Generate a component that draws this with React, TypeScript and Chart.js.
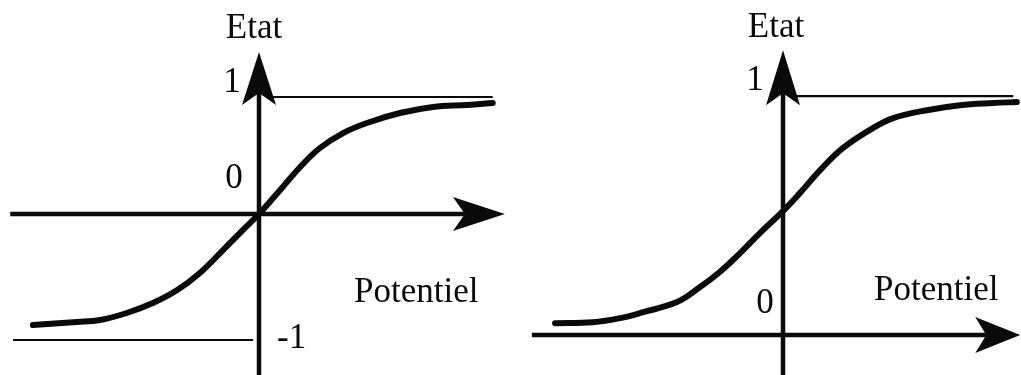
import React, { useEffect, useRef } from "react";
import { Chart, registerables } from "chart.js";
Chart.register(...registerables);

// ---- Data ----
// Left panel: state in [-1, 1]
const leftPotential = [-3.9, -3.14, -2.74, -2.28, -1.83, -1.41, -1.02, -0.62, -0.28, 0, 0.41, 0.71, 1.05, 1.45, 1.86, 2.43, 3.0, 3.59, 4.03];
const leftState = [-0.949, -0.923, -0.906, -0.846, -0.761, -0.65, -0.504, -0.308, -0.137, 0, 0.231, 0.402, 0.564, 0.692, 0.778, 0.863, 0.915, 0.932, 0.949];
// Right panel: state in [0, 1]
const rightPotential = [-3.93, -3.28, -2.81, -2.41, -1.83, -1.43, -1.09, -0.74, -0.4, 0, 0.29, 0.64, 1.03, 1.55, 1.9, 2.48, 3.05, 3.62, 4.03];
const rightState = [0.05, 0.054, 0.071, 0.096, 0.138, 0.201, 0.264, 0.343, 0.427, 0.519, 0.594, 0.69, 0.782, 0.866, 0.908, 0.941, 0.962, 0.971, 0.975];

// Asymptote guide lines
const leftUpperLevel = 1;
const leftUpperSpan = [0.14, 4.03];
const leftLowerLevel = -1.077;
const leftLowerSpan = [-4.24, -0.1];
const rightUpperLevel = 1;
const rightUpperSpan = [0.24, 3.97];

// Axis extents (arrow tips)
const leftXAxis = [-4.29, 4.24];
const leftYAxis = [-1.376, 1.385];
const rightXAxis = [-4.33, 4.09];
const rightYAxis = [-0.167, 1.192];

// Visible windows
const leftXWindow = [-4.466, 4.328];
const leftYWindow = [-1.376, 1.829];
const rightXWindow = [-4.707, 4.103];
const rightYWindow = [-0.167, 1.402];

// Texts
const axisTitleY = "Etat";
const axisTitleX = "Potentiel";
const leftTickLabels = ["1", "0", "-1"];
const rightTickLabels = ["1", "0"];

const FONT = "35px 'Liberation Serif', 'Times New Roman', serif";
const INK = "#0a0a0a";

type Label = { text: string; dx: number; dy: number; refX: number; refY: number | "tip"; align: CanvasTextAlign };
type PanelCfg = {
  xAxis: number[];
  yAxis: number[];
  arrowX: { len: number; half: number; notch: number };
  arrowY: { len: number; half: number; notch: number };
  labels: Label[];
};

function drawArrow(ctx: CanvasRenderingContext2D, tx: number, ty: number, dx: number, dy: number, len: number, half: number, notch: number) {
  const bx = tx - dx * len;
  const by = ty - dy * len;
  const px = -dy;
  const py = dx;
  const nx = tx - dx * (len - notch);
  const ny = ty - dy * (len - notch);
  ctx.beginPath();
  ctx.moveTo(tx, ty);
  ctx.lineTo(bx + px * half, by + py * half);
  ctx.lineTo(nx, ny);
  ctx.lineTo(bx - px * half, by - py * half);
  ctx.closePath();
  ctx.fill();
}

const axesPlugin = {
  id: "sketchAxes",
  afterDatasetsDraw(chart: any, _args: any, opts: any) {
    const cfg: PanelCfg = opts.panel;
    if (!cfg) return;
    const ctx: CanvasRenderingContext2D = chart.ctx;
    const xs = chart.scales.x;
    const ys = chart.scales.y;
    const ox = xs.getPixelForValue(0);
    const oy = ys.getPixelForValue(0);
    const x0 = xs.getPixelForValue(cfg.xAxis[0]);
    const x1 = xs.getPixelForValue(cfg.xAxis[1]);
    const y0 = ys.getPixelForValue(cfg.yAxis[0]);
    const y1 = ys.getPixelForValue(cfg.yAxis[1]);
    ctx.save();
    ctx.strokeStyle = INK;
    ctx.fillStyle = INK;
    ctx.lineWidth = 4.5;
    ctx.lineCap = "butt";
    // horizontal axis
    ctx.beginPath();
    ctx.moveTo(x0, oy);
    ctx.lineTo(x1 - (cfg.arrowX.len - cfg.arrowX.notch), oy);
    ctx.stroke();
    drawArrow(ctx, x1, oy, 1, 0, cfg.arrowX.len, cfg.arrowX.half, cfg.arrowX.notch);
    // vertical axis
    ctx.beginPath();
    ctx.moveTo(ox, y0 + 2);
    ctx.lineTo(ox, y1 + (cfg.arrowY.len - cfg.arrowY.notch));
    ctx.stroke();
    drawArrow(ctx, ox, y1, 0, -1, cfg.arrowY.len, cfg.arrowY.half, cfg.arrowY.notch);
    // labels
    ctx.font = FONT;
    ctx.textBaseline = "alphabetic";
    for (const l of cfg.labels) {
      const rx = xs.getPixelForValue(l.refX);
      const ry = l.refY === "tip" ? y1 : ys.getPixelForValue(l.refY);
      ctx.textAlign = l.align;
      ctx.fillText(l.text, rx + l.dx, ry + l.dy);
    }
    ctx.restore();
  },
};

function segment(xsSpan: number[], level: number) {
  return xsSpan.map((x) => ({ x, y: level }));
}

function makeConfig(
  potential: number[],
  state: number[],
  guides: { span: number[]; level: number }[],
  xWin: number[],
  yWin: number[],
  panel: PanelCfg
): any {
  const datasets: any[] = [
    {
      data: potential.map((x, i) => ({ x, y: state[i] })),
      borderColor: INK,
      borderWidth: 6,
      tension: 0.4,
      pointRadius: 0,
      borderCapStyle: "round",
      borderJoinStyle: "round",
      fill: false,
    },
    ...guides.map((g) => ({
      data: segment(g.span, g.level),
      borderColor: INK,
      borderWidth: 2.2,
      pointRadius: 0,
      fill: false,
    })),
  ];
  return {
    type: "line",
    data: { datasets },
    options: {
      animation: false,
      responsive: false,
      maintainAspectRatio: false,
      devicePixelRatio: 1,
      layout: { padding: 0 },
      events: [],
      scales: {
        x: { type: "linear", display: false, min: xWin[0], max: xWin[1] },
        y: { type: "linear", display: false, min: yWin[0], max: yWin[1] },
      },
      plugins: {
        legend: { display: false },
        tooltip: { enabled: false },
        sketchAxes: { panel },
      },
    },
    plugins: [axesPlugin],
  };
}

const leftPanel: PanelCfg = {
  xAxis: leftXAxis,
  yAxis: leftYAxis,
  arrowX: { len: 52, half: 17, notch: 12 },
  arrowY: { len: 53, half: 17, notch: 12 },
  labels: [
    { text: axisTitleY, refX: 0, refY: "tip", dx: -5, dy: -14, align: "center" },
    { text: leftTickLabels[0], refX: 0, refY: leftUpperLevel, dx: -27, dy: -5, align: "center" },
    { text: leftTickLabels[1], refX: 0, refY: 0, dx: -25, dy: -26, align: "center" },
    { text: leftTickLabels[2], refX: 0, refY: leftLowerLevel, dx: 18, dy: 8, align: "left" },
    { text: axisTitleX, refX: 0, refY: 0, dx: 95, dy: 88, align: "left" },
  ],
};

const rightPanel: PanelCfg = {
  xAxis: rightXAxis,
  yAxis: rightYAxis,
  arrowX: { len: 45, half: 18, notch: 11 },
  arrowY: { len: 55, half: 17, notch: 12 },
  labels: [
    { text: axisTitleY, refX: 0, refY: "tip", dx: -7, dy: -13, align: "center" },
    { text: rightTickLabels[0], refX: 0, refY: rightUpperLevel, dx: -28, dy: -6, align: "center" },
    { text: rightTickLabels[1], refX: 0, refY: 0, dx: -18, dy: -22, align: "center" },
    { text: axisTitleX, refX: 0, refY: 0, dx: 91, dy: -35, align: "left" },
  ],
};

export default function App() {
  const leftRef = useRef<HTMLCanvasElement>(null);
  const rightRef = useRef<HTMLCanvasElement>(null);

  useEffect(() => {
    document.body.style.margin = "0";
    document.body.style.background = "#ffffff";
    const charts: Chart[] = [];
    if (leftRef.current) {
      charts.push(
        new Chart(
          leftRef.current,
          makeConfig(
            leftPotential,
            leftState,
            [
              { span: leftUpperSpan, level: leftUpperLevel },
              { span: leftLowerSpan, level: leftLowerLevel },
            ],
            leftXWindow,
            leftYWindow,
            leftPanel
          )
        )
      );
    }
    if (rightRef.current) {
      charts.push(
        new Chart(
          rightRef.current,
          makeConfig(
            rightPotential,
            rightState,
            [{ span: rightUpperSpan, level: rightUpperLevel }],
            rightXWindow,
            rightYWindow,
            rightPanel
          )
        )
      );
    }
    return () => charts.forEach((c) => c.destroy());
  }, []);

  return (
    <div style={{ position: "relative", width: 1021, height: 375, overflow: "hidden", background: "#fff" }}>
      <canvas ref={leftRef} width={510} height={375} style={{ position: "absolute", left: 0, top: 0, width: 510, height: 375 }} />
      <canvas ref={rightRef} width={511} height={375} style={{ position: "absolute", left: 510, top: 0, width: 511, height: 375 }} />
    </div>
  );
}
